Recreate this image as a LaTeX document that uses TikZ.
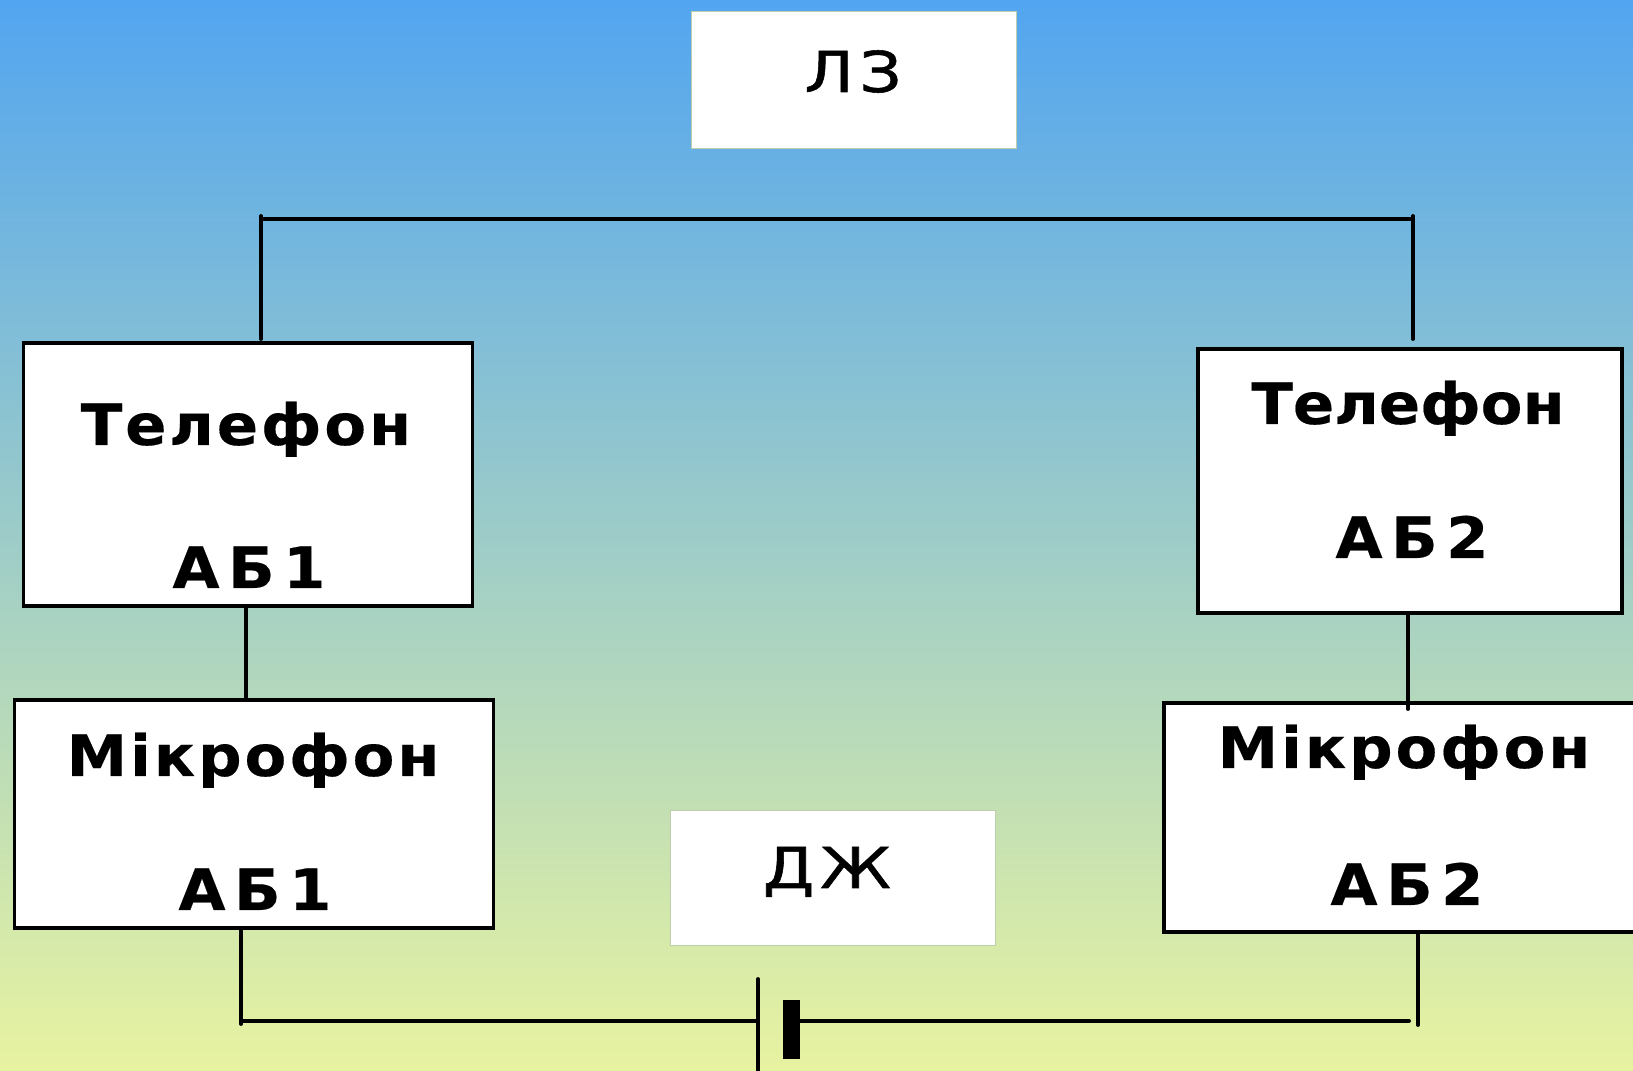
\documentclass[tikz,border=0pt]{standalone}
\usepackage{fontspec}
\setmainfont{DejaVu Sans}
\newfontfamily\boldface[FakeStretch=1.07, LetterSpace=5, FakeBold=0.3]{DejaVu Sans Bold}
\newfontfamily\boldtight[FakeStretch=1.07, LetterSpace=0, FakeBold=0.3]{DejaVu Sans Bold}
\newfontfamily\boldwide[FakeStretch=1.07, LetterSpace=15, FakeBold=0.3]{DejaVu Sans Bold}
\newfontfamily\thinface[FakeStretch=1.17, LetterSpace=10, FakeBold=1]{DejaVu Sans}
\usepackage{tikz}

\definecolor{skytop}{RGB}{82,165,240}
\definecolor{skybottom}{RGB}{232,243,160}
\definecolor{paleline}{RGB}{190,205,170}

\tikzset{
    wire/.style={line width=1.1pt, line cap=round},
    box/.style={draw, line width=1pt, fill=white, inner sep=0pt},
    plainbox/.style={fill=white, draw=paleline, line width=0.3pt, inner sep=0pt},
    boldtext/.style={anchor=base, inner sep=0pt, font=\fontsize{16.2}{18}\boldface},
    tighttext/.style={anchor=base, inner sep=0pt, font=\fontsize{16.2}{18}\boldtight},
    widetext/.style={anchor=base, inner sep=0pt, font=\fontsize{16.2}{18}\boldwide},
    thintext/.style={anchor=base, inner sep=0pt, font=\fontsize{16}{18}\thinface}
}

\begin{document}
\begin{tikzpicture}[x=0.01cm, y=-0.01cm]
            \useasboundingbox (0,0) rectangle (1633,1071);
            \clip (0,0) rectangle (1633,1071);
            \fill[top color=skytop, bottom color=skybottom] (0,0) rectangle (1633,1071);

            \node[plainbox, minimum width=3.24cm, minimum height=1.37cm] at (854,80) (lz) {};
            \node[thintext] at (853,92) (lztext) {ЛЗ};

            \node[plainbox, minimum width=3.24cm, minimum height=1.35cm] at (833,878) (dzh) {};
            \node[thintext] at (827,888) (dzhtext) {ДЖ};

            \node[box, minimum width=4.49cm, minimum height=2.63cm] at (248,474.5) (tel1) {};
            \node[boldtext] at (246,445) (tel1a) {Телефон};
            \node[widetext] at (249,588) (tel1b) {АБ1};

            \node[box, minimum width=4.24cm, minimum height=2.64cm] at (1410,481) (tel2) {};
            \node[tighttext] at (1408,424) (tel2a) {Телефон};
            \node[widetext] at (1412,558) (tel2b) {АБ2};

            \node[box, minimum width=4.79cm, minimum height=2.28cm] at (254,814) (mic1) {};
            \node[boldtext] at (253,776) (mic1a) {Мікрофон};
            \node[widetext] at (255,910) (mic1b) {АБ1};

            \node[box, minimum width=4.80cm, minimum height=2.29cm] at (1404,817.5) (mic2) {};
            \node[boldtext] at (1404,768) (mic2a) {Мікрофон};
            \node[widetext] at (1407,905) (mic2b) {АБ2};

            \coordinate (topl) at (261,219);
            \coordinate (topr) at (1413,219);
            \coordinate (startl) at (261,216);
            \coordinate (startr) at (1413,216);
            \coordinate (endl) at (261,339);
            \coordinate (endr) at (1413,339);
            \coordinate (link1) at (246,603);
            \coordinate (link2) at (1408,709);
            \coordinate (stubl) at (241,1024);
            \coordinate (botl) at (241,1021);
            \coordinate (botr) at (1409,1021);
            \coordinate (stubr) at (1418,1025);
            \coordinate (platetop) at (758,979);
            \coordinate (platebot) at (758,1075);

            \node[fill=black, inner sep=0pt, minimum width=0.17cm, minimum height=0.58cm] at (791.5,1029.5) (plate) {};

            \draw[wire] (startl) -- (endl);
            \draw[wire] (startr) -- (endr);
            \draw[wire] (topl) -- (topr);
            \draw[wire] (tel1.south -| link1) -- (mic1.north -| link1);
            \draw[wire] (tel2.south -| link2) -- (link2);
            \draw[wire] (mic1.south -| stubl) -- (stubl);
            \draw[wire] (botl) -- (platetop |- botl);
            \draw[wire] (mic2.south -| stubr) -- (stubr);
            \draw[wire] (plate.east |- botr) -- (botr);
            \draw[wire] (platetop) -- (platebot);
        \end{tikzpicture}
\end{document}
